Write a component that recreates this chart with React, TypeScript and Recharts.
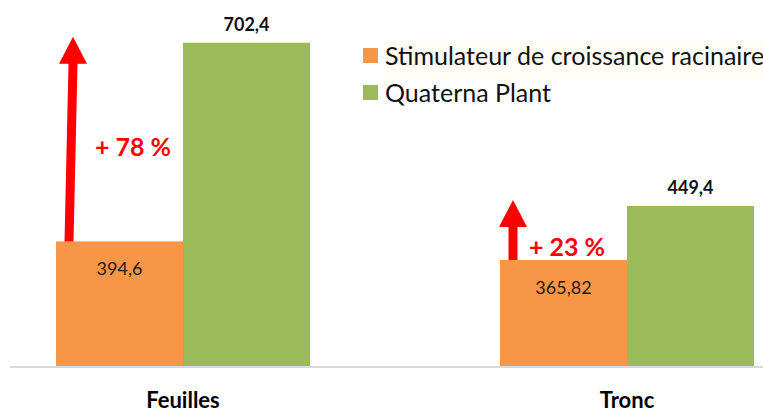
import React from 'react';
import { BarChart, Bar, XAxis, YAxis, LabelList } from 'recharts';

const categories = ['Feuilles', 'Tronc'];
const seriesNames = ['Stimulateur de croissance racinaire', 'Quaterna Plant'];
const stimulateur = [394.6, 365.82];
const quaterna = [702.4, 449.4];
const stimulateurLabels = ['394,6', '365,82'];
const quaternaLabels = ['702,4', '449,4'];
const gainLabels = ['+ 78 %', '+ 23 %'];

const ORANGE = '#F79646';
const GREEN = '#9BBB59';
const RED = '#FF0000';
const FONT = 'Lato, "Open Sans", sans-serif';
const Y_MIN = 200;

const data = categories.map((name, i) => ({
  name,
  stim: stimulateur[i],
  quat: quaterna[i],
  stimLabel: stimulateurLabels[i],
  quatLabel: quaternaLabels[i],
  gain: gainLabels[i],
  idx: i,
}));

// label placement tweaks per category (px)
const gainDx = [77, 67];
const gainLift = [95, 14];

// orange bar + red arrow that climbs up to the green bar's level
const StimShape = (props: any) => {
  const { x, y, width, height, payload } = props;
  const bottom = y + height;
  const k = height / (payload.stim - Y_MIN);
  const greenTop = bottom - (payload.quat - Y_MIN) * k;
  const tip = greenTop - 6;
  const headH = 27;
  const sx0 = x + 13;
  const sx1 = payload.idx === 0 ? x + 17 : x + 13;
  const sw = 4.5;
  const i = payload.idx;
  return (
    <g>
      <rect x={x} y={y} width={width} height={height} fill={ORANGE} />
      <polygon
        points={`${sx0 - sw},${y} ${sx0 + sw},${y} ${sx1 + sw},${tip + headH} ${sx1 + 14},${tip + headH} ${sx1},${tip} ${sx1 - 14},${tip + headH} ${sx1 - sw},${tip + headH}`}
        fill={RED}
      />
      <text
        x={x + gainDx[i]}
        y={y - gainLift[i]}
        textAnchor="middle"
        dominantBaseline="central"
        fill={RED}
        fontFamily={FONT}
        fontWeight={700}
        fontSize={25}
      >
        {payload.gain}
      </text>
    </g>
  );
};

const CategoryTick = (props: any) => {
  const { x, y, payload } = props;
  return (
    <text x={x} y={y + 24} textAnchor="middle" dominantBaseline="central" fill="#000" fontFamily={FONT} fontWeight={700} fontSize={22}>
      {payload.value}
    </text>
  );
};

export default function App() {
  const colors = [ORANGE, GREEN];
  return (
    <div style={{ position: 'absolute', left: 0, top: 0, width: 763, height: 413, background: '#fff' }}>
      <BarChart
        width={763}
        height={413}
        data={data}
        margin={{ top: 12, right: 0, bottom: 0, left: 10 }}
        barGap={0}
      >
        <XAxis
          dataKey="name"
          height={46}
          padding={{ left: -49, right: -86 }}
          tickLine={false}
          axisLine={{ stroke: '#d9d9d9', strokeWidth: 2 }}
          tick={<CategoryTick />}
          interval={0}
        />
        <YAxis hide domain={[Y_MIN, 750]} allowDataOverflow />
        <Bar dataKey="stim" barSize={127} fill={ORANGE} shape={<StimShape />} isAnimationActive={false}>
          <LabelList dataKey="stimLabel" position="insideTop" offset={21} fill="#1a1a1a" fontFamily={FONT} fontSize={18} />
        </Bar>
        <Bar dataKey="quat" barSize={127} fill={GREEN} isAnimationActive={false}>
          <LabelList dataKey="quatLabel" position="top" offset={12} fill="#111" fontFamily={FONT} fontWeight={700} fontSize={18} />
        </Bar>
      </BarChart>
      <div style={{ position: 'absolute', left: 385, top: 40, width: 378, height: 40, background: '#fffdf6' }} />
      {seriesNames.map((n, i) => (
        <div
          key={n}
          style={{
            position: 'absolute',
            left: 363,
            top: 39 + i * 37,
            height: 32,
            display: 'flex',
            alignItems: 'center',
            fontFamily: FONT,
            fontSize: 25,
            color: '#111',
            whiteSpace: 'nowrap',
          }}
        >
          <span style={{ display: 'inline-block', width: 15, height: 15, background: colors[i], marginRight: 7 }} />
          {n}
        </div>
      ))}
    </div>
  );
}
